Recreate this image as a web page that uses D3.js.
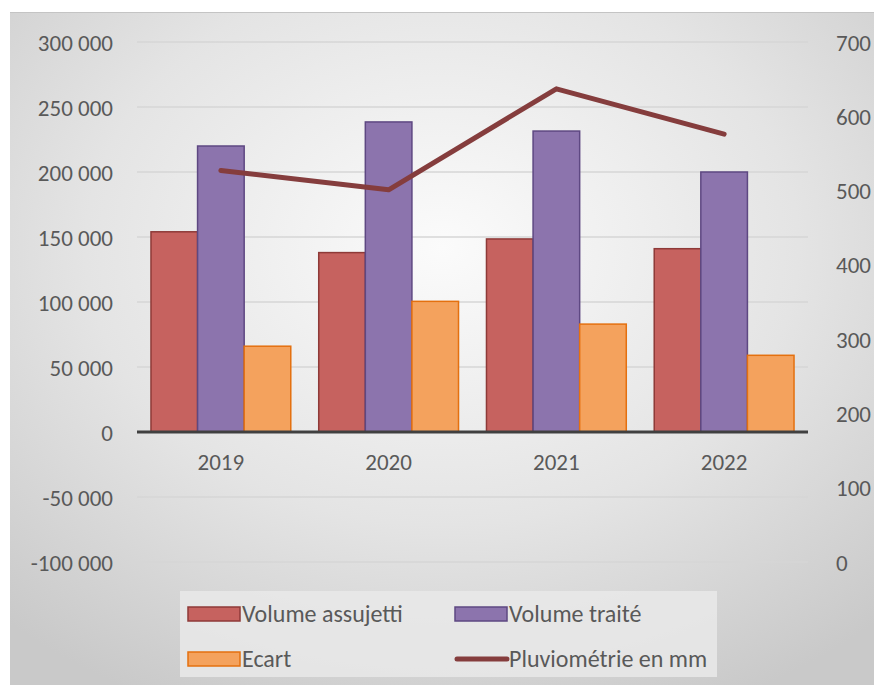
<!DOCTYPE html>
<html>
<head>
<meta charset="utf-8">
<script src="https://cdn.jsdelivr.net/npm/d3@7"></script>
<style>
  html, body { margin: 0; padding: 0; background: #fff; }
  svg text { font-family: Calibri, Carlito, "Noto Sans", sans-serif; fill: #595959; }
</style>
</head>
<body>
<div id="chart"></div>
<script>
const years = ['2019', '2020', '2021', '2022'];
const volumeAssujetti = [154000, 138000, 148500, 141000];
const volumeTraite = [220000, 238500, 231500, 200000];
const ecart = [66000, 100500, 83000, 59000];
const pluviometrie = [527, 501, 637, 576];
const leftTicks = [-100000, -50000, 0, 50000, 100000, 150000, 200000, 250000, 300000];
const rightTicks = [0, 100, 200, 300, 400, 500, 600, 700];

const width = 874, height = 685;
const plot = {left: 137, right: 808, top: 42, bottom: 562};

const barSeries = [
  {name: 'Volume assujetti', values: volumeAssujetti, fill: '#c6625f', stroke: '#8e3a38'},
  {name: 'Volume traité', values: volumeTraite, fill: '#8c74ad', stroke: '#5e4882'},
  {name: 'Ecart', values: ecart, fill: '#f4a25d', stroke: '#e4700f'}
];
const lineColor = '#853d3d';

const frFormat = d => d3.format(',')(d).replace(/,/g, ' ').replace('\u2212', '-');

const svg = d3.select('#chart').append('svg')
  .attr('width', width)
  .attr('height', height);

// background
const defs = svg.append('defs');
const grad = defs.append('radialGradient')
  .attr('id', 'bg')
  .attr('cx', '50%').attr('cy', '35%').attr('r', '75%');
grad.append('stop').attr('offset', '0%').attr('stop-color', '#fbfbfb');
grad.append('stop').attr('offset', '55%').attr('stop-color', '#e4e4e4');
grad.append('stop').attr('offset', '100%').attr('stop-color', '#c9c9c9');

svg.append('rect')
  .attr('x', 10).attr('y', 12)
  .attr('width', width - 10).attr('height', height - 12)
  .attr('fill', 'url(#bg)');
svg.append('line')
  .attr('x1', 10).attr('x2', width).attr('y1', 12.5).attr('y2', 12.5)
  .attr('stroke', '#c4c4c4').attr('stroke-width', 1);

const x = d3.scaleBand()
  .domain(years)
  .range([plot.left, plot.right]);

const xInner = d3.scaleBand()
  .domain(barSeries.map(s => s.name))
  .range([0, x.bandwidth()])
  .paddingInner(0)
  .paddingOuter(0.3);

const yLeft = d3.scaleLinear()
  .domain([-100000, 300000])
  .range([plot.bottom, plot.top]);

const yRight = d3.scaleLinear()
  .domain([0, 700])
  .range([plot.bottom, plot.top]);

// gridlines
svg.append('g')
  .selectAll('line')
  .data(leftTicks.filter(d => d !== 0))
  .join('line')
    .attr('x1', plot.left).attr('x2', plot.right)
    .attr('y1', d => yLeft(d)).attr('y2', d => yLeft(d))
    .attr('stroke', '#d6d6d6')
    .attr('stroke-width', 1.5);

// left axis
const leftAxis = svg.append('g')
  .attr('transform', `translate(${plot.left},0)`)
  .call(d3.axisLeft(yLeft).tickValues(leftTicks).tickSize(0).tickPadding(24).tickFormat(frFormat));
leftAxis.select('.domain').remove();
leftAxis.selectAll('text').attr('font-size', 23).attr('dy', '0.35em');

// right axis
const rightAxis = svg.append('g')
  .attr('transform', `translate(${plot.right},0)`)
  .call(d3.axisRight(yRight).tickValues(rightTicks).tickSize(0).tickPadding(28));
rightAxis.select('.domain').remove();
rightAxis.selectAll('text').attr('font-size', 23).attr('dy', '0.35em');

// bars
const groups = svg.append('g')
  .selectAll('g')
  .data(years)
  .join('g')
    .attr('transform', d => `translate(${x(d)},0)`);

groups.selectAll('rect')
  .data((d, i) => barSeries.map(s => ({series: s, value: s.values[i]})))
  .join('rect')
    .attr('x', d => xInner(d.series.name))
    .attr('y', d => yLeft(Math.max(0, d.value)))
    .attr('width', xInner.bandwidth())
    .attr('height', d => Math.abs(yLeft(d.value) - yLeft(0)))
    .attr('fill', d => d.series.fill)
    .attr('stroke', d => d.series.stroke)
    .attr('stroke-width', 1.5);

// zero axis line
svg.append('line')
  .attr('x1', plot.left).attr('x2', plot.right)
  .attr('y1', yLeft(0)).attr('y2', yLeft(0))
  .attr('stroke', '#404040')
  .attr('stroke-width', 3);

// category labels
svg.append('g')
  .selectAll('text')
  .data(years)
  .join('text')
    .attr('x', d => x(d) + x.bandwidth() / 2)
    .attr('y', yLeft(0) + 38)
    .attr('text-anchor', 'middle')
    .attr('font-size', 23)
    .text(d => d);

// line
svg.append('path')
  .datum(pluviometrie)
  .attr('fill', 'none')
  .attr('stroke', lineColor)
  .attr('stroke-width', 5)
  .attr('stroke-linecap', 'round')
  .attr('stroke-linejoin', 'round')
  .attr('d', d3.line()
    .x((d, i) => x(years[i]) + x.bandwidth() / 2)
    .y(d => yRight(d)));

// legend
const legend = svg.append('g');
legend.append('rect')
  .attr('x', 180).attr('y', 591)
  .attr('width', 537).attr('height', 86)
  .attr('fill', '#e9e9e9')
  .attr('opacity', 0.85);

const legendItems = [
  {name: 'Volume assujetti', type: 'bar', s: barSeries[0], col: 0, row: 0},
  {name: 'Volume traité', type: 'bar', s: barSeries[1], col: 1, row: 0},
  {name: 'Ecart', type: 'bar', s: barSeries[2], col: 0, row: 1},
  {name: 'Pluviométrie en mm', type: 'line', col: 1, row: 1}
];
const colX = [188, 455], rowY = [614, 659];

const li = legend.selectAll('g.item')
  .data(legendItems)
  .join('g')
    .attr('class', 'item')
    .attr('transform', d => `translate(${colX[d.col]},${rowY[d.row]})`);

li.filter(d => d.type === 'bar')
  .append('rect')
    .attr('x', 0).attr('y', -7)
    .attr('width', 52).attr('height', 14)
    .attr('fill', d => d.s.fill)
    .attr('stroke', d => d.s.stroke)
    .attr('stroke-width', 1.5);

li.filter(d => d.type === 'line')
  .append('line')
    .attr('x1', 2).attr('x2', 52)
    .attr('y1', 0).attr('y2', 0)
    .attr('stroke', lineColor)
    .attr('stroke-width', 5)
    .attr('stroke-linecap', 'round');

li.append('text')
  .attr('x', 54)
  .attr('y', 0)
  .attr('dy', '0.35em')
  .attr('font-size', 24)
  .text(d => d.name);
</script>
</body>
</html>
